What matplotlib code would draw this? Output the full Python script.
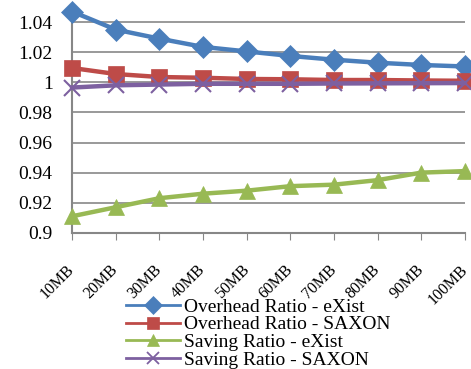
import matplotlib
matplotlib.use("Agg")
import matplotlib.pyplot as plt
import matplotlib.transforms as mtransforms
from matplotlib.lines import Line2D

# data
sizes = ["10MB", "20MB", "30MB", "40MB", "50MB", "60MB", "70MB", "80MB", "90MB", "100MB"]
overhead_exist = [1.047, 1.035, 1.029, 1.0235, 1.0205, 1.0175, 1.015, 1.013, 1.0115, 1.0105]
overhead_saxon = [1.0095, 1.0055, 1.0035, 1.003, 1.0022, 1.002, 1.0015, 1.0015, 1.0012, 1.001]
saving_exist = [0.911, 0.917, 0.923, 0.926, 0.928, 0.931, 0.932, 0.935, 0.940, 0.941]
saving_saxon = [0.9965, 0.998, 0.9985, 0.999, 0.999, 0.999, 0.9992, 0.9993, 0.9994, 0.9995]

labels = ["Overhead Ratio - eXist", "Overhead Ratio - SAXON",
          "Saving Ratio - eXist", "Saving Ratio - SAXON"]
colors = ["#4A7EBB", "#BE4B48", "#98B954", "#7D60A0"]
markers = ["D", "s", "^", "x"]
series = [overhead_exist, overhead_saxon, saving_exist, saving_saxon]

plt.rcParams["font.family"] = ["Liberation Serif", "DejaVu Serif"]

fig = plt.figure(figsize=(4.71, 3.69), dpi=100)
ax = fig.add_axes([0.153, 0.369, 0.834, 0.612])

x = list(range(len(sizes)))
# draw green/purple first so the overhead lines sit on top
order = [2, 3, 1, 0]
for i in order:
    ms = 11 if markers[i] != "x" else 12
    ax.plot(x, series[i], color=colors[i], lw=3.2, marker=markers[i], ms=ms,
            mew=1.5 if markers[i] == "x" else 0.5, clip_on=False, zorder=3 + i)

ax.set_xlim(0, len(sizes) - 1)
ax.set_ylim(0.9, 1.05)
yt = [0.9, 0.92, 0.94, 0.96, 0.98, 1.0, 1.02, 1.04]
ax.set_yticks(yt)
ax.set_yticklabels(["0.9", "0.92", "0.94", "0.96", "0.98", "1", "1.02", "1.04"], fontsize=14)
ax.set_xticks(x)
ax.set_xticklabels(sizes, rotation=45, ha="right", rotation_mode="anchor", fontsize=11.5)
ax.tick_params(axis="y", length=0, pad=14)
ax.tick_params(axis="x", length=5, color="#878787", direction="out", pad=12)

# nudge the rotated size labels a little left and down
shift = mtransforms.ScaledTranslation(-4 / 72, -4 / 72, fig.dpi_scale_trans)
for t in ax.get_xticklabels():
    t.set_transform(t.get_transform() + shift)

ax.grid(axis="y", color="#878787", lw=1.2)
ax.set_axisbelow(True)
for s in ["top", "right"]:
    ax.spines[s].set_visible(False)
for s in ["left", "bottom"]:
    ax.spines[s].set_color("#878787")
    ax.spines[s].set_linewidth(1.5)

handles = [Line2D([], [], color=colors[i], lw=2, marker=markers[i], ms=9,
                  mew=1.3 if markers[i] == "x" else 0.5) for i in range(4)]
fig.legend(handles, labels, loc="lower left", bbox_to_anchor=(0.25, -0.02), frameon=False,
           fontsize=14, handlelength=2.8, labelspacing=0.0, handletextpad=0.2, borderaxespad=0)

fig.savefig("out.png", dpi=100)
